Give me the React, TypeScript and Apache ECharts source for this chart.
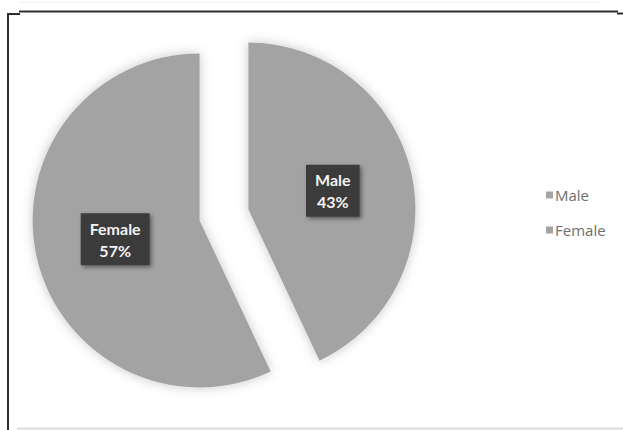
import React, { useEffect, useRef } from "react";
import * as echarts from "echarts";

const categories = ["Male", "Female"];
const values = [43, 57];
const sliceColors = ["#a3a3a3", "#a3a3a3"];

export default function App() {
  const ref = useRef<HTMLDivElement>(null);
  useEffect(() => {
    if (!ref.current) return;
    const chart = echarts.init(ref.current, undefined, { renderer: "svg" });
    const frame = "#2e2e2e";
    chart.setOption({
      animation: false,
      backgroundColor: "#ffffff",
      legend: {
        orient: "vertical",
        left: 541,
        top: 180,
        itemWidth: 7,
        itemHeight: 7,
        itemGap: 15,
        icon: "rect",
        data: categories,
        selectedMode: false,
        textStyle: {
          fontFamily: "Open Sans",
          fontSize: 15,
          lineHeight: 20,
          color: "#6e6e6e",
          padding: [0, 0, 0, -3],
        },
      },
      graphic: [
        { type: "line", shape: { x1: 8, y1: 13, x2: 8, y2: 430 }, style: { stroke: frame, lineWidth: 2 } },
        { type: "line", shape: { x1: 7, y1: 14, x2: 20, y2: 14 }, style: { stroke: frame, lineWidth: 2 } },
        { type: "line", shape: { x1: 19, y1: 11.5, x2: 618, y2: 11.5 }, style: { stroke: frame, lineWidth: 2 } },
        { type: "line", shape: { x1: 617, y1: 13.5, x2: 623, y2: 13.5 }, style: { stroke: frame, lineWidth: 2 } },
        { type: "line", shape: { x1: 17, y1: 428.5, x2: 623, y2: 428.5 }, style: { stroke: "#dcdcdc", lineWidth: 2 } },
        { type: "line", shape: { x1: 19, y1: 2.5, x2: 600, y2: 2.5 }, style: { stroke: "#f3f3f3", lineWidth: 1 } },
      ],
      series: [
        {
          type: "pie",
          center: [224, 215],
          radius: 167,
          startAngle: 90,
          clockwise: true,
          selectedMode: "multiple",
          selectedOffset: 25,
          avoidLabelOverlap: false,
          itemStyle: {
            borderWidth: 0,
            shadowBlur: 12,
            shadowColor: "rgba(0,0,0,0.22)",
          },
          label: {
            show: true,
            position: "inside",
            formatter: "{b}\n{d}%",
            color: "#f2f2f2",
            fontFamily: "Lato",
            fontWeight: "bold",
            fontSize: 16,
            lineHeight: 22,
            backgroundColor: "#3a3a3a",
            padding: [4, 9],
            shadowColor: "rgba(0,0,0,0.45)",
            shadowBlur: 4,
            shadowOffsetX: 2,
            shadowOffsetY: 2,
          },
          labelLine: { show: false },
          emphasis: { disabled: true },
          select: { itemStyle: { color: sliceColors[0] } },
          data: categories.map((name, i) => ({
            name,
            value: values[i],
            selected: true,
            itemStyle: { color: sliceColors[i] },
          })),
        },
      ],
    });
    return () => chart.dispose();
  }, []);
  return (
    <div
      ref={ref}
      style={{ position: "absolute", left: 0, top: 0, width: 623, height: 430 }}
    />
  );
}
